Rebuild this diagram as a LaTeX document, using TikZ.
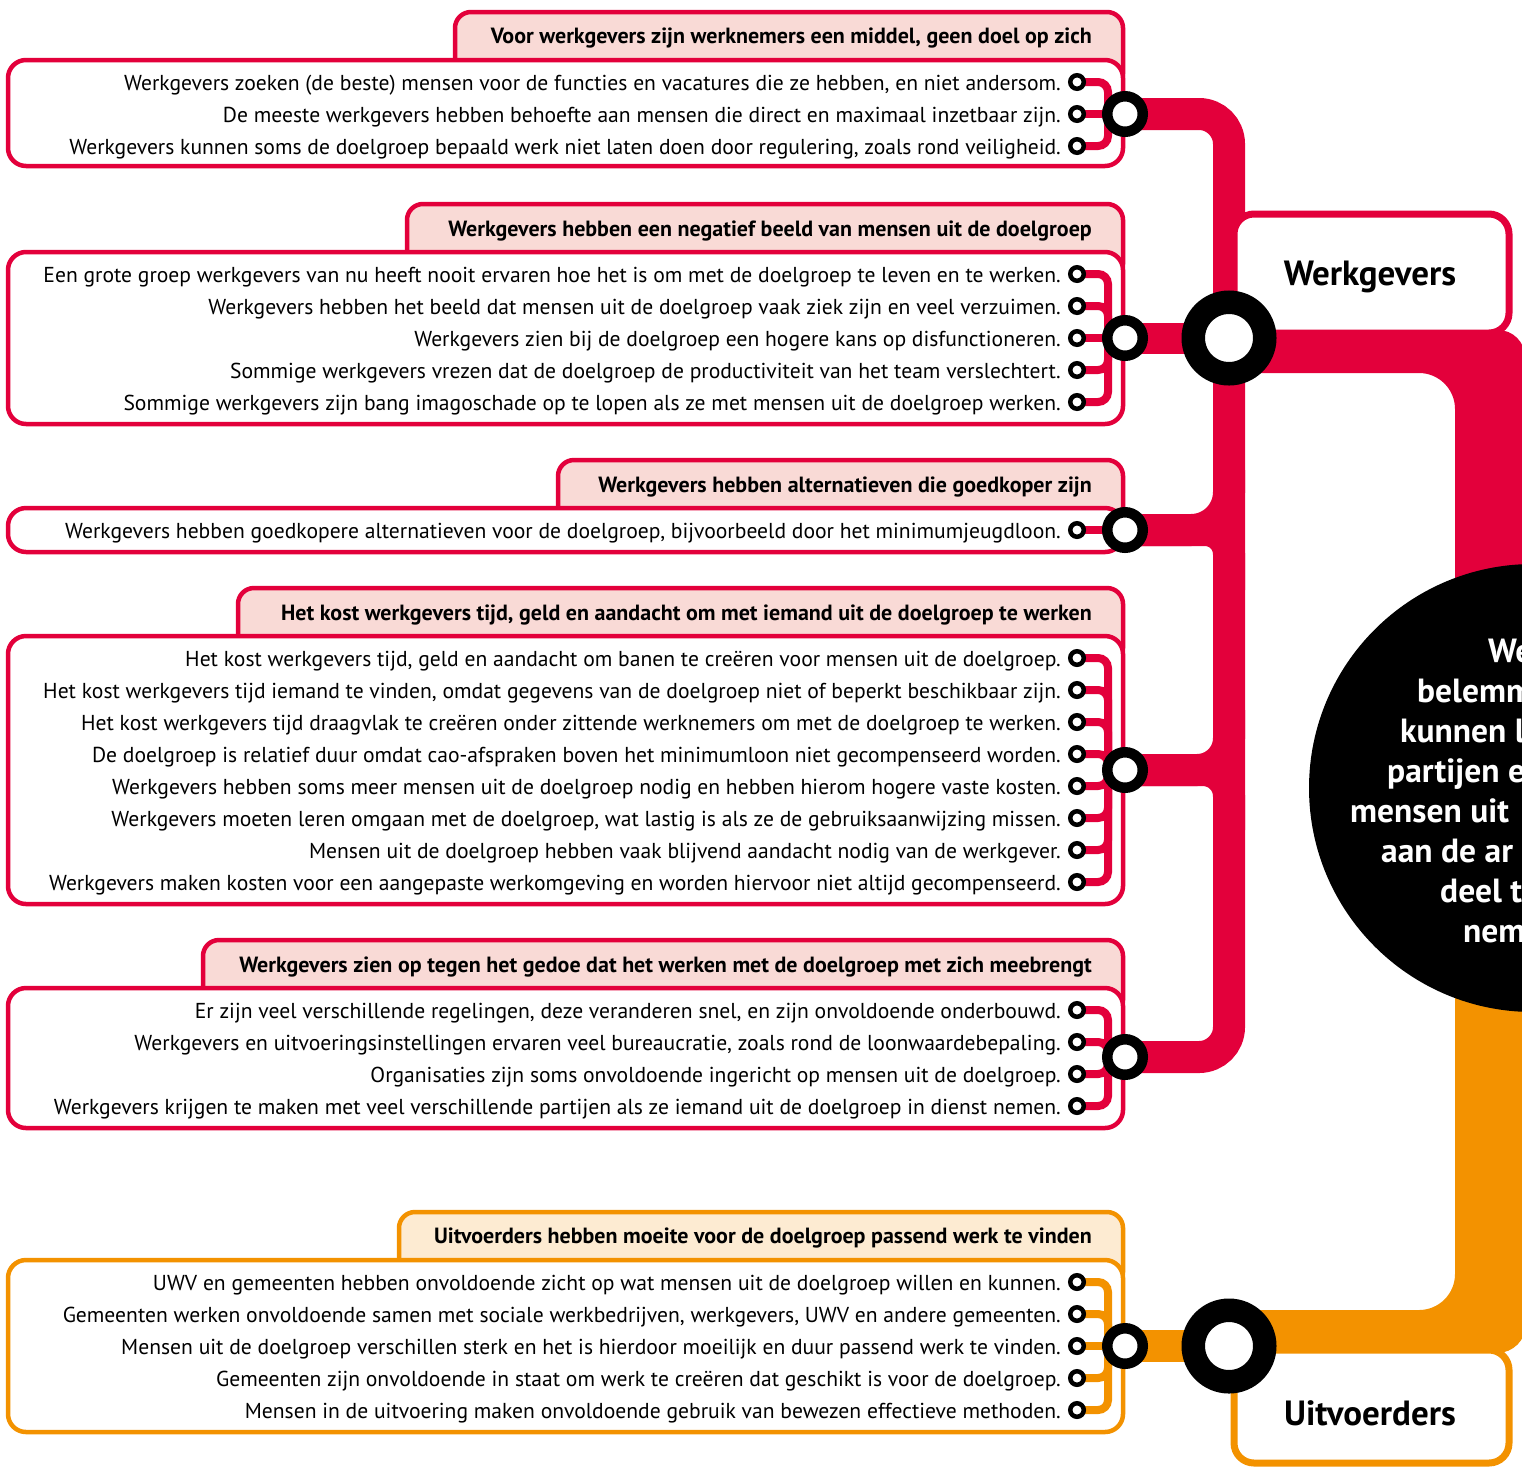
\documentclass[tikz,border=0pt]{standalone}
\usepackage{fontspec}
\setmainfont{PT Sans}
\definecolor{wgred}{RGB}{227,0,59}
\definecolor{wgpink}{RGB}{249,218,214}
\definecolor{uvorange}{RGB}{243,146,0}
\definecolor{uvcream}{RGB}{253,235,210}
\begin{document}
\begin{tikzpicture}[x=1pt,y=-1pt,
        itemtext/.style={anchor=base east,inner sep=0pt,font=\fontsize{21.6}{24}\selectfont},
        tabtext/.style={anchor=base east,inner sep=0pt,font=\fontsize{22}{24}\selectfont\bfseries},
        grouptab/.style={line width=4.5,rounded corners=16},
        groupbox/.style={line width=4.5,rounded corners=18,fill=white},
        twig/.style={line width=8,rounded corners=10},
        trunk/.style={line width=32,rounded corners=30},
        dot/.style={draw=black,fill=white,line width=4.5},
        hub/.style={draw=black,fill=white,line width=10.5},
        bighub/.style={draw=black,fill=white,line width=23.5},
        actorbox/.style={line width=7,rounded corners=20,fill=white},
        actortext/.style={anchor=base,inner sep=0pt,font=\fontsize{35}{40}\selectfont\bfseries},
        kerntext/.style={anchor=base west,inner sep=0pt,text=white,font=\fontsize{33.5}{38}\selectfont\bfseries}]
                \useasboundingbox (0,0) rectangle (1522,1468);
                \clip (0,0) rectangle (1522,1468);

                \coordinate (A) at (1125,114);
                \coordinate (B) at (1125,338);
                \coordinate (C) at (1125,530);
                \coordinate (D) at (1125,770);
                \coordinate (E) at (1125,1057);
                \coordinate (F) at (1125,1346);
                \coordinate (W) at (1229,338);
                \coordinate (U) at (1229,1346);
                \coordinate (K) at (1533,788);
                \coordinate (col) at (1108,0);

                \coordinate (A1) at (1077,82);
                \coordinate (A2) at (1077,114);
                \coordinate (A3) at (1077,146);
                \coordinate (B1) at (1077,274);
                \coordinate (B2) at (1077,306);
                \coordinate (B3) at (1077,338);
                \coordinate (B4) at (1077,370);
                \coordinate (B5) at (1077,402);
                \coordinate (C1) at (1077,530);
                \coordinate (D1) at (1077,658);
                \coordinate (D2) at (1077,690);
                \coordinate (D3) at (1077,722);
                \coordinate (D4) at (1077,754);
                \coordinate (D5) at (1077,786);
                \coordinate (D6) at (1077,818);
                \coordinate (D7) at (1077,850);
                \coordinate (D8) at (1077,882);
                \coordinate (E1) at (1077,1010);
                \coordinate (E2) at (1077,1042);
                \coordinate (E3) at (1077,1074);
                \coordinate (E4) at (1077,1106);
                \coordinate (F1) at (1077,1282);
                \coordinate (F2) at (1077,1314);
                \coordinate (F3) at (1077,1346);
                \coordinate (F4) at (1077,1378);
                \coordinate (F5) at (1077,1410);

                \fill[wgred] (1228,330) -- (1498,330) arc[start angle=-90,end angle=0,radius=27] -- (1525,790) -- (1455,790) -- (1455,409) arc[start angle=0,end angle=-90,radius=36] -- (1228,373) -- cycle;
                \fill[uvorange] (1228,1353) -- (1497,1353) arc[start angle=90,end angle=0,radius=29] -- (1526,780) -- (1455,780) -- (1455,1274) arc[start angle=0,end angle=90,radius=36] -- (1228,1310) -- cycle;

                \draw[trunk,wgred] (A) -- (A -| W) -- (W |- E) -- (E);
                \draw[wgred,line width=31] (B) -- (W);
                \draw[wgred,line width=32,rounded corners=38] (C) -- (C -| W) -- ++(0,-60);
                \draw[wgred,line width=32,rounded corners=24] (C) -- (C -| W) -- ++(0,60);
                \draw[wgred,line width=32,rounded corners=32] (D) -- (D -| W) -- ++(0,-60);
                \draw[wgred,line width=32,rounded corners=26] (D) -- (D -| W) -- ++(0,60);
                \draw[uvorange,line width=32] (F) -- (U);

                \draw[actorbox,draw=wgred] (1234,214) rectangle (1509,333);
                \draw[actorbox,draw=uvorange] (1234,1350) rectangle (1509,1463);

                \draw[grouptab,draw=wgred,fill=wgpink] (455,12) rectangle (1123,90);
                \draw[groupbox,draw=wgred] (8,60) rectangle (1123,166);
                \draw[grouptab,draw=wgred,fill=wgpink] (407,204) rectangle (1123,280);
                \draw[groupbox,draw=wgred] (8,252) rectangle (1123,424);
                \draw[grouptab,draw=wgred,fill=wgpink] (558,460) rectangle (1123,536);
                \draw[groupbox,draw=wgred] (8,508) rectangle (1123,552);
                \draw[grouptab,draw=wgred,fill=wgpink] (238,588) rectangle (1123,664);
                \draw[groupbox,draw=wgred] (8,636) rectangle (1123,904);
                \draw[grouptab,draw=wgred,fill=wgpink] (203,940) rectangle (1123,1016);
                \draw[groupbox,draw=wgred] (8,988) rectangle (1123,1128);
                \draw[grouptab,draw=uvorange,fill=uvcream] (399,1212) rectangle (1123,1288);
                \draw[groupbox,draw=uvorange] (8,1260) rectangle (1123,1432);

                \draw[twig,wgred] (A1) -- (A1 -| col) -- (col |- A);
                \draw[twig,wgred] (A2) -- (A);
                \draw[twig,wgred] (A3) -- (A3 -| col) -- (col |- A);
                \draw[twig,wgred] (B1) -- (B1 -| col) -- (col |- B);
                \draw[twig,wgred] (B2) -- (B2 -| col) -- (col |- B);
                \draw[twig,wgred] (B3) -- (B);
                \draw[twig,wgred] (B4) -- (B4 -| col) -- (col |- B);
                \draw[twig,wgred] (B5) -- (B5 -| col) -- (col |- B);
                \draw[twig,wgred] (C1) -- (C);
                \draw[twig,wgred] (D1) -- (D1 -| col) -- (col |- D);
                \draw[twig,wgred] (D2) -- (D2 -| col) -- (col |- D);
                \draw[twig,wgred] (D3) -- (D3 -| col) -- (col |- D);
                \draw[twig,wgred] (D4) -- (D4 -| col) -- (col |- D);
                \draw[twig,wgred] (D5) -- (D5 -| col) -- (col |- D);
                \draw[twig,wgred] (D6) -- (D6 -| col) -- (col |- D);
                \draw[twig,wgred] (D7) -- (D7 -| col) -- (col |- D);
                \draw[twig,wgred] (D8) -- (D8 -| col) -- (col |- D);
                \draw[twig,wgred] (E1) -- (E1 -| col) -- (col |- E);
                \draw[twig,wgred] (E2) -- (E2 -| col) -- (col |- E);
                \draw[twig,wgred] (E3) -- (E3 -| col) -- (col |- E);
                \draw[twig,wgred] (E4) -- (E4 -| col) -- (col |- E);
                \draw[twig,uvorange] (F1) -- (F1 -| col) -- (col |- F);
                \draw[twig,uvorange] (F2) -- (F2 -| col) -- (col |- F);
                \draw[twig,uvorange] (F3) -- (F);
                \draw[twig,uvorange] (F4) -- (F4 -| col) -- (col |- F);
                \draw[twig,uvorange] (F5) -- (F5 -| col) -- (col |- F);

                \foreach \d in {A1,A2,A3,B1,B2,B3,B4,B5,C1,D1,D2,D3,D4,D5,D6,D7,D8,E1,E2,E3,E4,F1,F2,F3,F4,F5}
                  \draw[dot] (\d) circle (6.75);
                \foreach \h in {A,B,C,D,E,F}
                  \draw[hub] (\h) circle (17.75);
                \draw[bighub] (W) circle (35.75);
                \draw[bighub] (U) circle (35.75);

                \node[actortext] (Wlabel) at (1370,285) {Werkgevers};
                \node[actortext] (Ulabel) at (1370,1425) {Uitvoerders};

                \node[tabtext] (At) at (1092,43) {Voor werkgevers zijn werknemers een middel, geen doel op zich};
                \node[itemtext] (A1t) at (1061,90) {Werkgevers zoeken (de beste) mensen voor de functies en vacatures die ze hebben, en niet andersom.};
                \node[itemtext] (A2t) at (1061,122) {De meeste werkgevers hebben behoefte aan mensen die direct en maximaal inzetbaar zijn.};
                \node[itemtext] (A3t) at (1061,154) {Werkgevers kunnen soms de doelgroep bepaald werk niet laten doen door regulering, zoals rond veiligheid.};

                \node[tabtext] (Bt) at (1092,236) {Werkgevers hebben een negatief beeld van mensen uit de doelgroep};
                \node[itemtext] (B1t) at (1061,282) {Een grote groep werkgevers van nu heeft nooit ervaren hoe het is om met de doelgroep te leven en te werken.};
                \node[itemtext] (B2t) at (1061,314) {Werkgevers hebben het beeld dat mensen uit de doelgroep vaak ziek zijn en veel verzuimen.};
                \node[itemtext] (B3t) at (1061,346) {Werkgevers zien bij de doelgroep een hogere kans op disfunctioneren.};
                \node[itemtext] (B4t) at (1061,378) {Sommige werkgevers vrezen dat de doelgroep de productiviteit van het team verslechtert.};
                \node[itemtext] (B5t) at (1061,410) {Sommige werkgevers zijn bang imagoschade op te lopen als ze met mensen uit de doelgroep werken.};

                \node[tabtext] (Ct) at (1092,492) {Werkgevers hebben alternatieven die goedkoper zijn};
                \node[itemtext] (C1t) at (1061,538) {Werkgevers hebben goedkopere alternatieven voor de doelgroep, bijvoorbeeld door het minimumjeugdloon.};

                \node[tabtext] (Dt) at (1092,620) {Het kost werkgevers tijd, geld en aandacht om met iemand uit de doelgroep te werken};
                \node[itemtext] (D1t) at (1061,666) {Het kost werkgevers tijd, geld en aandacht om banen te creëren voor mensen uit de doelgroep.};
                \node[itemtext] (D2t) at (1061,698) {Het kost werkgevers tijd iemand te vinden, omdat gegevens van de doelgroep niet of beperkt beschikbaar zijn.};
                \node[itemtext] (D3t) at (1061,730) {Het kost werkgevers tijd draagvlak te creëren onder zittende werknemers om met de doelgroep te werken.};
                \node[itemtext] (D4t) at (1061,762) {De doelgroep is relatief duur omdat cao-afspraken boven het minimumloon niet gecompenseerd worden.};
                \node[itemtext] (D5t) at (1061,794) {Werkgevers hebben soms meer mensen uit de doelgroep nodig en hebben hierom hogere vaste kosten.};
                \node[itemtext] (D6t) at (1061,826) {Werkgevers moeten leren omgaan met de doelgroep, wat lastig is als ze de gebruiksaanwijzing missen.};
                \node[itemtext] (D7t) at (1061,858) {Mensen uit de doelgroep hebben vaak blijvend aandacht nodig van de werkgever.};
                \node[itemtext] (D8t) at (1061,890) {Werkgevers maken kosten voor een aangepaste werkomgeving en worden hiervoor niet altijd gecompenseerd.};

                \node[tabtext] (Et) at (1092,972) {Werkgevers zien op tegen het gedoe dat het werken met de doelgroep met zich meebrengt};
                \node[itemtext] (E1t) at (1061,1018) {Er zijn veel verschillende regelingen, deze veranderen snel, en zijn onvoldoende onderbouwd.};
                \node[itemtext] (E2t) at (1061,1050) {Werkgevers en uitvoeringsinstellingen ervaren veel bureaucratie, zoals rond de loonwaardebepaling.};
                \node[itemtext] (E3t) at (1061,1082) {Organisaties zijn soms onvoldoende ingericht op mensen uit de doelgroep.};
                \node[itemtext] (E4t) at (1061,1114) {Werkgevers krijgen te maken met veel verschillende partijen als ze iemand uit de doelgroep in dienst nemen.};

                \node[tabtext] (Ft) at (1092,1243) {Uitvoerders hebben moeite voor de doelgroep passend werk te vinden};
                \node[itemtext] (F1t) at (1061,1290) {UWV en gemeenten hebben onvoldoende zicht op wat mensen uit de doelgroep willen en kunnen.};
                \node[itemtext] (F2t) at (1061,1322) {Gemeenten werken onvoldoende samen met sociale werkbedrijven, werkgevers, UWV en andere gemeenten.};
                \node[itemtext] (F3t) at (1061,1354) {Mensen uit de doelgroep verschillen sterk en het is hierdoor moeilijk en duur passend werk te vinden.};
                \node[itemtext] (F4t) at (1061,1386) {Gemeenten zijn onvoldoende in staat om werk te creëren dat geschikt is voor de doelgroep.};
                \node[itemtext] (F5t) at (1061,1418) {Mensen in de uitvoering maken onvoldoende gebruik van bewezen effectieve methoden.};

                \fill[black] (K) circle (224);
                \node[kerntext] (K1) at (1488,662) {We};
                \node[kerntext] (K2) at (1417,702) {belemm};
                \node[kerntext] (K3) at (1400,742) {kunnen l};
                \node[kerntext] (K4) at (1387,782) {partijen e};
                \node[kerntext] (K5) at (1350,822) {mensen uit};
                \node[kerntext] (K6) at (1381,862) {aan de ar};
                \node[kerntext] (K7) at (1440,902) {deel t};
                \node[kerntext] (K8) at (1463,942) {nem};
            \end{tikzpicture}
\end{document}
